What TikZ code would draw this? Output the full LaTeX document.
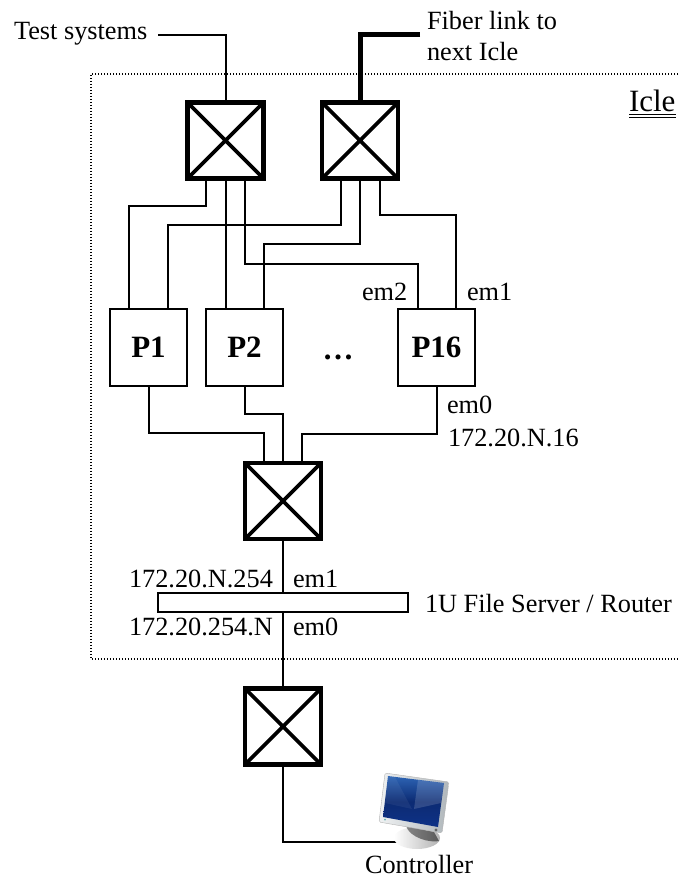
\documentclass[tikz,border=0pt]{standalone}
\usepackage{fontspec}
\setmainfont{Liberation Serif}
\definecolor{scrA}{RGB}{14,50,135}
\definecolor{scrB}{RGB}{45,100,180}
\definecolor{bezelA}{RGB}{240,242,243}
\definecolor{bezelB}{RGB}{175,182,186}
\tikzset{
  x=1pt,y=-1pt,
  switchbox/.style={draw,fill=white,line width=4.2pt,minimum size=76pt,inner sep=0pt,outer sep=0pt,
    path picture={\draw[line width=3.6pt] (path picture bounding box.north west) -- (path picture bounding box.south east)
      (path picture bounding box.north east) -- (path picture bounding box.south west);}},
  pcbox/.style={draw,fill=white,line width=2pt,minimum size=77pt,inner sep=0pt,outer sep=0pt,font=\fontsize{31}{34}\selectfont\bfseries},
  serverbox/.style={draw,fill=white,line width=2pt,minimum width=250pt,minimum height=19pt,inner sep=0pt,outer sep=0pt},
  lbl/.style={inner sep=0pt,outer sep=0pt,anchor=base west,font=\fontsize{26.3}{30}\selectfont},
  wire/.style={line width=2pt,line join=miter},
  fiber/.style={line width=5pt,line join=miter},
  frameline/.style={line width=1.3pt,dash pattern=on 1.3pt off 1.7pt}
}
\begin{document}
\begin{tikzpicture}
\useasboundingbox (0,0) rectangle (678,877);
\draw[frameline] (678,74) -- (91,74) -- (91,659) -- (678,659);

\node[switchbox] (sw1) at (225.5,140.5) {};
\node[switchbox] (sw2) at (360,140.5) {};
\node[switchbox] (sw3) at (283,501) {};
\node[switchbox] (sw4) at (283,726.5) {};
\node[pcbox] (p1) at (148.5,347) {P1};
\node[pcbox] (p2) at (244.5,347) {P2};
\node[pcbox] (p16) at (436.5,347) {P16};
\node[serverbox] (srv) at (283,602) {};
\node[lbl,font=\fontsize{31}{34}\selectfont\bfseries,anchor=base] (dots) at (338,359) {…};

\node[lbl] (ts) at (14,40) {Test systems};
\node[lbl] (fl) at (427,30) {Fiber link to};
\node[lbl] (ni) at (427,61) {next Icle};
\node[lbl,font=\fontsize{31}{34}\selectfont] (icle) at (629,112) {Icle};
\node[lbl] (em2) at (362,300) {em2};
\node[lbl] (em1) at (467,300) {em1};
\node[lbl] (em0) at (447,413) {em0};
\node[lbl] (ip16) at (448,446) {172.20.N.16};
\node[lbl] (ipa) at (129,587) {172.20.N.254};
\node[lbl] (ema) at (293,587) {em1};
\node[lbl] (ipb) at (129,635) {172.20.254.N};
\node[lbl] (emb) at (293,635) {em0};
\node[lbl] (fs) at (425,612) {1U File Server / Router};
\node[lbl] (ctl) at (365,873) {Controller};

\draw[line width=1pt] (629,115) -- (676,115) (629,118) -- (676,118);

\coordinate (tsend) at (158,35);
\coordinate (flend) at (420,35);
\coordinate (pcend) at (397,842);

\draw[wire] (tsend) -| (sw1.north);
\draw[fiber] (flend) -| (sw2.north);

\draw[wire] ([xshift=-19.5pt]sw1.south) -- ++(0,28) -| ([xshift=-19.5pt]p1.north);
\draw[wire] (sw1.south) -- ([xshift=-19pt]p2.north);
\draw[wire] ([xshift=19.5pt]sw1.south) -- ++(0,85.5) -| ([xshift=-19pt]p16.north);
\draw[wire] ([xshift=-19.5pt]sw2.south) -- ++(0,46.5) -| ([xshift=19.5pt]p1.north);
\draw[wire] (sw2.south) -- ++(0,65.5) -| ([xshift=19.5pt]p2.north);
\draw[wire] ([xshift=19.5pt]sw2.south) -- ++(0,36.5) -| ([xshift=19.5pt]p16.north);

\draw[wire] (p1.south) -- ++(0,47) -| ([xshift=-19pt]sw3.north);
\draw[wire] (p2.south) -- ++(0,28.5) -| (sw3.north);
\draw[wire] (p16.south) -- ++(0,48) -| ([xshift=19pt]sw3.north);

\draw[wire] (sw3.south) -- (srv.north);
\draw[wire] (srv.south) -- (sw4.north);
\draw[wire] (sw4.south) |- (pcend);

% computer icon
\begin{scope}
  \shade[left color=white,right color=black!30] (417,838) ellipse (23pt and 11pt);
  \shade[left color=black!55,right color=black!70,opacity=.85] (406,826) -- (434,832) -- (439,841) .. controls (430,843) and (410,838) .. cycle;
  \shade[left color=bezelA,right color=bezelB,draw=black!30,line width=.4pt,rounded corners=1.5pt]
    (385,773) -- (449,782) -- (442,833) -- (379,822) -- cycle;
  \shade[top color=scrB,bottom color=scrA,middle color=scrA!85!black]
    (388,776) -- (444,783) -- (438,827) -- (383,817) -- cycle;
  \fill[white,opacity=.15] (418,780) -- (444,783) -- (441,803) -- (414,809) -- cycle;
  \fill[white,opacity=.06] (388,776) -- (395,777) -- (412,809) -- (385,803) -- cycle;
  \fill[teal!60] (385,819.5) circle (1pt);
  \fill[black!60] (436,830) circle (1.6pt);
\end{scope}
\end{tikzpicture}
\end{document}
